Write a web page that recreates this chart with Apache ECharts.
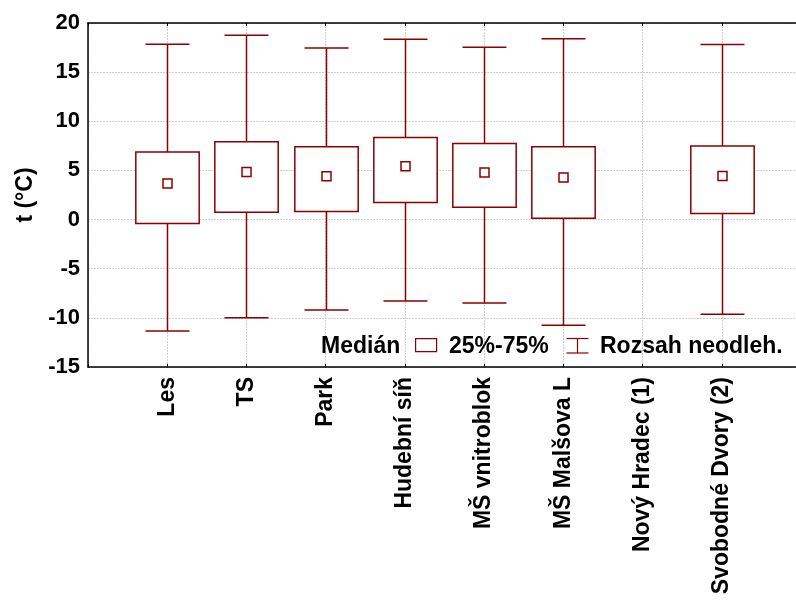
<!DOCTYPE html>
<html>
<head>
<meta charset="utf-8">
<script src="https://cdn.jsdelivr.net/npm/echarts@6/dist/echarts.min.js"></script>
<style>
  html, body { margin: 0; padding: 0; background: #fff; }
  #chart { width: 796px; height: 601px; }
</style>
</head>
<body>
<div id="chart"></div>
<script>
// ---- data ----
const categories = ['Les', 'TS', 'Park', 'Hudební síň', 'MŠ vnitroblok', 'MŠ Malšova L', 'Nový Hradec (1)', 'Svobodné Dvory (2)'];
const whiskerLow  = [-11.33, -10.0, -9.2, -8.28, -8.48, -10.75, null, -9.63];
const quartile1   = [-0.41, 0.74, 0.81, 1.73, 1.25, 0.13, null, 0.61];
const medians     = [3.66, 4.84, 4.40, 5.42, 4.78, 4.27, null, 4.44];
const quartile3   = [6.88, 7.93, 7.42, 8.34, 7.73, 7.42, null, 7.49];
const whiskerHigh = [17.83, 18.75, 17.46, 18.34, 17.53, 18.41, null, 17.8];
const yTicks = [-15, -10, -5, 0, 5, 10, 15, 20];
const legendLabels = ['Medián', '25%-75%', 'Rozsah neodleh.'];

// axis slots: empty slot at each end (positions 0 and 9)
const axisCats = [''].concat(categories, ['']);
const boxData = [];
categories.forEach((c, i) => {
  if (medians[i] == null) return;
  boxData.push([i + 1, whiskerLow[i], quartile1[i], medians[i], quartile3[i], whiskerHigh[i]]);
});

const RED = '#8b0000';
const FONT = "'Liberation Sans', Arial, Helvetica, sans-serif";

const chart = echarts.init(document.getElementById('chart'), null, { renderer: 'canvas' });

function renderItem(params, api) {
  const x = api.value(0);
  const lo = api.coord([x, api.value(1)]);
  const q1 = api.coord([x, api.value(2)]);
  const md = api.coord([x, api.value(3)]);
  const q3 = api.coord([x, api.value(4)]);
  const hi = api.coord([x, api.value(5)]);
  const band = api.size([1, 0])[0];
  const bw = band * 0.8;
  const cw = band * 0.555;
  const ms = 9;
  const cx = Math.round(lo[0]) + 0.5;
  const lineStyle = { stroke: RED, lineWidth: 1.5, fill: null };
  return {
    type: 'group',
    children: [
      { type: 'line', shape: { x1: cx, y1: hi[1], x2: cx, y2: q3[1] }, style: lineStyle },
      { type: 'line', shape: { x1: cx, y1: q1[1], x2: cx, y2: lo[1] }, style: lineStyle },
      { type: 'line', shape: { x1: cx - cw / 2, y1: hi[1], x2: cx + cw / 2, y2: hi[1] }, style: lineStyle },
      { type: 'line', shape: { x1: cx - cw / 2, y1: lo[1], x2: cx + cw / 2, y2: lo[1] }, style: lineStyle },
      { type: 'rect', shape: { x: cx - bw / 2, y: q3[1], width: bw, height: q1[1] - q3[1] },
        style: { stroke: RED, lineWidth: 1.5, fill: '#fff' } },
      { type: 'rect', shape: { x: cx - ms / 2, y: md[1] - ms / 2, width: ms, height: ms },
        style: { stroke: RED, lineWidth: 1.5, fill: '#fff' } }
    ]
  };
}

const gridSplit = { show: true, lineStyle: { color: '#cfcfcf', type: [2, 1], width: 1 } };

const option = {
  backgroundColor: '#fff',
  animation: false,
  grid: { left: 88, top: 23, width: 713, height: 344, outerBoundsMode: 'none', containLabel: false },
  xAxis: [
    {
      type: 'category', data: axisCats, boundaryGap: false, position: 'bottom',
      axisLine: { show: true, onZero: false, lineStyle: { color: '#000', width: 1.5 } },
      axisTick: { show: true, inside: true, length: 3, interval: 0, lineStyle: { color: '#000', width: 1 } },
      axisLabel: { interval: 0, rotate: 90, margin: 10, color: '#000', fontSize: 23, fontWeight: 'bold', fontFamily: FONT },
      splitLine: Object.assign({ interval: 0 }, gridSplit)
    },
    {
      type: 'category', data: axisCats, boundaryGap: false, position: 'top',
      axisLine: { show: true, onZero: false, lineStyle: { color: '#000', width: 1.5 } },
      axisTick: { show: true, inside: true, length: 3, interval: 0, lineStyle: { color: '#000', width: 1 } },
      axisLabel: { show: false },
      splitLine: { show: false }
    }
  ],
  yAxis: {
    type: 'value', min: -15, max: 20, interval: 5,
    name: 't (°C)', nameLocation: 'middle', nameGap: 48, nameRotate: 90,
    nameTextStyle: { color: '#000', fontSize: 23, fontWeight: 'bold', fontFamily: FONT },
    axisLine: { show: true, onZero: false, lineStyle: { color: '#000', width: 1.5 } },
    axisTick: { show: false },
    axisLabel: {
      margin: 8, color: '#000', fontSize: 22, fontWeight: 'bold', fontFamily: FONT,
      formatter: v => (yTicks.indexOf(v) >= 0 ? String(v) : '')
    },
    splitLine: gridSplit
  },
  series: [{
    type: 'custom',
    xAxisIndex: 0,
    renderItem: renderItem,
    encode: { x: 0, y: [1, 2, 3, 4, 5] },
    data: boxData,
    z: 5
  }],
  graphic: [
    { type: 'text', left: 321, top: 335, z: 20,
      style: { text: legendLabels[0], fill: '#000', font: 'bold 23px ' + FONT } },
    { type: 'rect', left: 415, top: 338, z: 20, shape: { width: 21, height: 13 },
      style: { stroke: RED, lineWidth: 1.2, fill: '#fff' } },
    { type: 'text', left: 449, top: 335, z: 20,
      style: { text: legendLabels[1], fill: '#000', font: 'bold 23px ' + FONT } },
    { type: 'group', left: 564, top: 336, z: 20, children: [
      { type: 'line', shape: { x1: 0, y1: 0.5, x2: 22, y2: 0.5 }, style: { stroke: RED, lineWidth: 1.2 } },
      { type: 'line', shape: { x1: 11, y1: 0.5, x2: 11, y2: 15 }, style: { stroke: RED, lineWidth: 1.2 } },
      { type: 'line', shape: { x1: 0, y1: 15, x2: 22, y2: 15 }, style: { stroke: RED, lineWidth: 1.2 } }
    ] },
    { type: 'text', left: 600, top: 335, z: 20,
      style: { text: legendLabels[2], fill: '#000', font: 'bold 23px ' + FONT } }
  ]
};

chart.setOption(option);
</script>
</body>
</html>
